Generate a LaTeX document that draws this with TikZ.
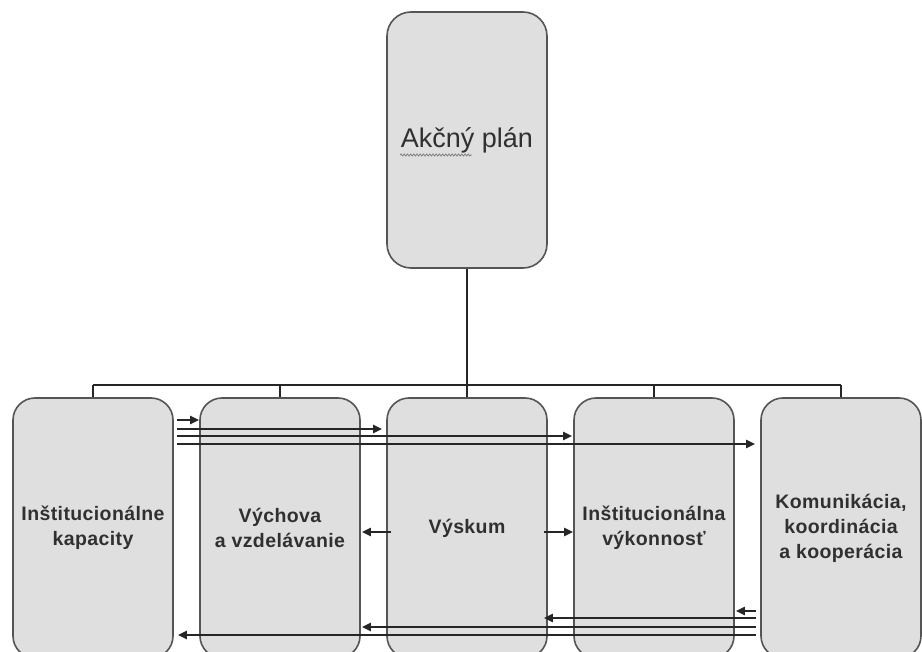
\documentclass[tikz,border=0pt]{standalone}
\usepackage{fontspec}
\setmainfont{Liberation Sans}
\newfontfamily\boxfont[LetterSpace=2]{Liberation Sans}
\usetikzlibrary{arrows.meta,decorations.pathmorphing,calc}
\definecolor{boxfill}{HTML}{DFDFDF}
\definecolor{boxline}{HTML}{555555}
\definecolor{ink}{HTML}{262626}
\definecolor{txt}{HTML}{303030}
\tikzset{
  box/.style={draw=boxline, line width=1.6pt, fill=boxfill, rounded corners=22pt,
    minimum width=160pt, minimum height=260pt, inner sep=0pt, align=center,
    text=txt, font=\boxfont\bfseries\fontsize{19.5}{25}\selectfont},
  topbox/.style={draw=boxline, line width=1.6pt, fill=boxfill, rounded corners=24pt,
    minimum width=160pt, minimum height=256pt, inner sep=0pt, align=center,
    text=txt, font=\fontsize{27}{32}\selectfont},
  link/.style={draw=ink, line width=2.8pt},
  arr/.style={draw=ink, line width=2.8pt, -{Triangle[length=9pt,width=8pt]}},
  squiggle/.style={draw=gray, line width=0.8pt, decorate,
    decoration={snake, amplitude=1pt, segment length=3.2pt}}
}
\begin{document}
\begin{tikzpicture}[x=1pt,y=-1pt]
\useasboundingbox (0,0) rectangle (922,652);
\fill[white] (0,0) rectangle (922,652);
% boxes
\node[topbox] (ap) at (467,140) {Akčný plán};
\draw[squiggle] ($(ap.center)+(-67,15)$) -- ($(ap.center)+(5,15)$);
\node[box] (b1) at (93,528)  {Inštitucionálne\\kapacity};
\node[box] (b2) at (280,528) {Výchova\\a vzdelávanie};
\node[box] (b3) at (467,528) {Výskum};
\node[box] (b4) at (654,528) {Inštitucionálna\\výkonnosť};
\node[box] (b5) at (841,528) {Komunikácia,\\koordinácia\\a kooperácia};
% tree
\coordinate (bus) at (467,385);
\draw[link] (ap.south) -- (bus);
\draw[link] (b1.north |- bus) -- (b5.north |- bus);
\foreach \b in {b1,b2,b3,b4,b5} \draw[link] (\b.north |- bus) -- (\b.north);
% top arrows (from b1 to the right)
\draw[arr] ([xshift=3pt]b1.east |- 0,420) -- (b2.west |- 0,420);
\draw[arr] ([xshift=3pt]b1.east |- 0,429) -- ([xshift=-4pt]b3.west |- 0,429);
\draw[arr] ([xshift=3pt]b1.east |- 0,436) -- ([xshift=-1pt]b4.west |- 0,436);
\draw[arr] ([xshift=3pt]b1.east |- 0,444) -- ([xshift=-5pt]b5.west |- 0,444);
% middle arrows
\draw[arr] ([xshift=5pt]b3.west |- 0,532) -- ([xshift=1pt]b2.east |- 0,532);
\draw[arr] ([xshift=-4pt]b3.east |- 0,532) -- (b4.west |- 0,532);
% bottom arrows (from b5 to the left)
\draw[arr] ([xshift=-4pt]b5.west |- 0,611) -- ([xshift=1pt]b4.east |- 0,611);
\draw[arr] ([xshift=-4pt]b5.west |- 0,618) -- ([xshift=-4pt]b3.east |- 0,618);
\draw[arr] ([xshift=-4pt]b5.west |- 0,627) -- ([xshift=1pt]b2.east |- 0,627);
\draw[arr] ([xshift=-4pt]b5.west |- 0,635) -- ([xshift=4pt]b1.east |- 0,635);
\end{tikzpicture}
\end{document}
